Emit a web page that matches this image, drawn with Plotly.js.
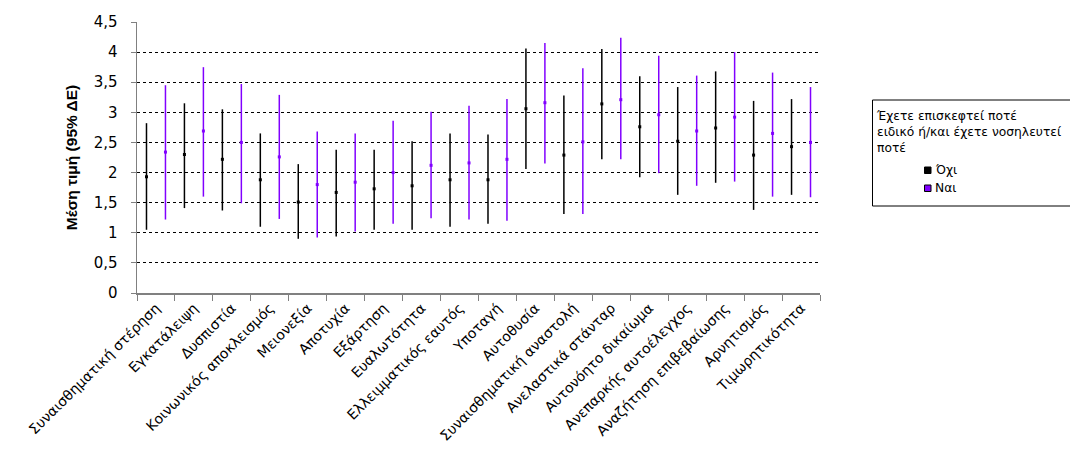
<!DOCTYPE html>
<html>
<head>
<meta charset="utf-8">
<script src="https://cdn.plot.ly/plotly-3.0.1.min.js"></script>
<style>html,body{margin:0;padding:0;background:#fff;}#chart{width:1070px;height:465px;}</style>
</head>
<body>
<div id="chart"></div>
<script>
const categories = ["Συναισθηματική στέρηση","Εγκατάλειψη","Δυσπιστία","Κοινωνικός αποκλεισμός","Μειονεξία","Αποτυχία","Εξάρτηση","Ευαλωτότητα","Ελλειμματικός εαυτός","Υποταγή","Αυτοθυσία","Συναισθηματική αναστολή","Ανελαστικά στάνταρ","Αυτονόητο δικαίωμα","Ανεπαρκής αυτοέλεγχος","Αναζήτηση επιβεβαίωσης","Αρνητισμός","Τιμωρητικότητα"];
const seriesNames = ["Όχι","Ναι"];
const noMean = [1.93,2.30,2.22,1.88,1.51,1.67,1.73,1.78,1.88,1.88,3.06,2.29,3.14,2.76,2.52,2.74,2.29,2.43];
const noLow  = [1.05,1.41,1.37,1.10,0.90,0.94,1.05,1.05,1.10,1.15,2.06,1.31,2.22,1.92,1.63,1.83,1.38,1.63];
const noHigh = [2.82,3.15,3.05,2.65,2.14,2.38,2.38,2.52,2.65,2.63,4.06,3.28,4.05,3.60,3.42,3.68,3.19,3.22];
const yesMean = [2.34,2.69,2.50,2.26,1.80,1.84,2.00,2.12,2.16,2.22,3.16,2.51,3.21,2.96,2.69,2.92,2.65,2.50];
const yesLow  = [1.22,1.60,1.49,1.23,0.92,1.02,1.15,1.24,1.22,1.20,2.15,1.31,2.22,1.99,1.78,1.85,1.60,1.59];
const yesHigh = [3.45,3.75,3.47,3.29,2.68,2.65,2.86,3.01,3.11,3.22,4.15,3.73,4.24,3.94,3.61,4.00,3.66,3.42];
const legendTitle = "Έχετε επισκεφτεί ποτέ<br>ειδικό ή/και έχετε νοσηλευτεί<br>ποτέ";
const yTitle = "Μέση τιμή (95% ΔΕ)";

const BLACK = "#000000", PURPLE = "#8000ff", GRAY = "#808080";
const L = 137, R = 820, T = 22, B = 293;
const px = x => (x - L) / (R - L);
const py = y => (B - y) / (B - T);

function makeTrace(name, mean, lo, hi, color, group) {
  return {
    type: "scatter", mode: "markers", name: name,
    x: categories, y: mean,
    offsetgroup: group,
    marker: {symbol: "square", size: 3, color: color, line: {width: 0}},
    error_y: {type: "data", symmetric: false,
      array: hi.map((h, i) => h - mean[i]),
      arrayminus: lo.map((l, i) => mean[i] - l),
      color: color, thickness: 1.5, width: 0},
    showlegend: false, hoverinfo: "x+y"
  };
}

const data = [
  makeTrace(seriesNames[0], noMean, noLow, noHigh, BLACK, "a"),
  makeTrace(seriesNames[1], yesMean, yesLow, yesHigh, PURPLE, "b")
];

const legFont = {family: "DejaVu Sans, sans-serif", size: 12.3, color: "#000"};

const layout = {
  width: 1070, height: 465,
  margin: {l: L, r: 1070 - R, t: T, b: 465 - B, pad: 0},
  paper_bgcolor: "#fff", plot_bgcolor: "#fff",
  separators: ",.",
  scattermode: "group", scattergap: 0,
  showlegend: false,
  xaxis: {
    type: "category", range: [-0.5, 17.5], tickson: "boundaries",
    ticks: "outside", ticklen: 6, tickcolor: GRAY, tickwidth: 1,
    showline: true, linecolor: GRAY, linewidth: 1.5,
    showgrid: false, zeroline: false, tickangle: -45,
    tickfont: {family: "DejaVu Sans, sans-serif", size: 14, color: "#000"}
  },
  xaxis2: {
    overlaying: "x", anchor: "y", side: "bottom", range: [0, 18],
    tick0: 0, dtick: 1, ticks: "inside", ticklen: 6, tickcolor: GRAY, tickwidth: 1,
    showticklabels: false, showgrid: false, zeroline: false, showline: false
  },
  yaxis: {
    range: [0, 4.5], dtick: 0.5, tick0: 0,
    ticks: "outside", ticklen: 5, tickcolor: GRAY, tickwidth: 1,
    ticklabelstandoff: 10,
    showline: true, linecolor: GRAY, linewidth: 1.5,
    showgrid: true, gridcolor: "#000", gridwidth: 1, griddash: "3px,3px",
    zeroline: false,
    tickfont: {family: "DejaVu Sans, sans-serif", size: 15, color: "#000"},
    title: {text: yTitle, standoff: 12,
      font: {family: "Liberation Sans, Arial, sans-serif", size: 15.5, color: "#000", weight: "bold"}}
  },
  shapes: [
    {type: "rect", xref: "paper", yref: "paper", x0: px(872.5), x1: px(1085), y0: py(206), y1: py(100),
     line: {color: "#000", width: 1}, fillcolor: "rgba(0,0,0,0)"},
    {type: "rect", xref: "paper", yref: "paper", x0: px(924.5), x1: px(931), y0: py(173.5), y1: py(167),
     line: {color: "#000", width: 1}, fillcolor: BLACK},
    {type: "rect", xref: "paper", yref: "paper", x0: px(924.5), x1: px(931), y0: py(191.5), y1: py(185),
     line: {color: "#000", width: 1}, fillcolor: PURPLE}
  ],
  annotations: [
    {xref: "paper", yref: "paper", x: px(874), y: py(107), xanchor: "left", yanchor: "top",
     align: "left", showarrow: false, text: legendTitle, font: legFont},
    {xref: "paper", yref: "paper", x: px(933), y: py(170), xanchor: "left", yanchor: "middle",
     showarrow: false, text: seriesNames[0], font: legFont},
    {xref: "paper", yref: "paper", x: px(933), y: py(188), xanchor: "left", yanchor: "middle",
     showarrow: false, text: seriesNames[1], font: legFont}
  ]
};

Plotly.newPlot("chart", data, layout, {displayModeBar: false, staticPlot: true});
</script>
</body>
</html>
